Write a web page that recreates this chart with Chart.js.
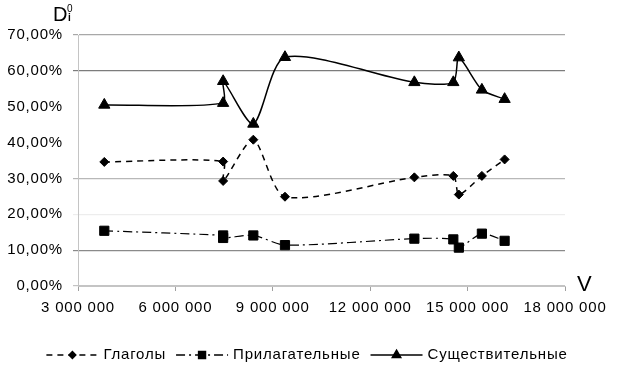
<!DOCTYPE html>
<html>
<head>
<meta charset="utf-8">
<script src="https://cdn.jsdelivr.net/npm/chart.js@4"></script>
<style>
  html, body { margin: 0; padding: 0; background: #fff; }
  #wrap { width: 624px; height: 369px; position: relative; }
</style>
</head>
<body>
<div id="wrap"><canvas id="chart"></canvas></div>
<script>
// ---- данные (V в единицах, D в %) ----
const verbsX = [3810000, 7470000, 7470000, 8400000, 9375000, 13360000, 14560000, 14730000, 15440000, 16140000];
const verbsY = [34.6, 34.7, 29.3, 40.8, 24.9, 30.3, 30.7, 25.5, 30.7, 35.3];

const adjX = [3810000, 7470000, 7470000, 8400000, 9375000, 13360000, 14560000, 14730000, 15440000, 16140000];
const adjY = [15.4, 14.1, 13.4, 14.1, 11.4, 13.2, 13.0, 10.7, 14.6, 12.6];

const nounX = [3810000, 7470000, 7470000, 8400000, 9375000, 13360000, 14560000, 14730000, 15440000, 16140000];
const nounY = [50.5, 51.0, 57.1, 45.2, 63.8, 56.8, 56.8, 63.7, 54.7, 52.1];

const seriesNames = ['Глаголы', 'Прилагательные', 'Существительные'];
const xTicks = [3000000, 6000000, 9000000, 12000000, 15000000, 18000000];
const yTicks = [0, 10, 20, 30, 40, 50, 60, 70];

const FONT = '"Liberation Sans", Arial, sans-serif';
const SPACING = '0.8px';

function pts(xs, ys) {
  return xs.map((x, i) => ({ x: x, y: ys[i] }));
}

// цвет сетки как на скане
function gridColor(v) {
  switch (v) {
    case 70: return '#a8a8a8';
    case 60: return '#7c7c7c';
    case 30: return '#b8b8b8';
    case 20: return '#ededed';
    case 10: return '#8a8a8a';
    case 0: return '#c4c4c4';
    default: return 'rgba(0,0,0,0)';
  }
}

/** немного разреженный шрифт, как в исходнике */
const letterSpacing = {
  id: 'letterSpacing',
  beforeLayout(chart) { chart.ctx.letterSpacing = SPACING; },
  beforeDraw(chart) { chart.ctx.letterSpacing = SPACING; }
};

/** подписи осей D и V */
const axisTitles = {
  id: 'axisTitles',
  afterDraw(chart) {
    const ctx = chart.ctx;
    ctx.save();
    ctx.letterSpacing = '0px';
    ctx.fillStyle = '#000';
    ctx.textBaseline = 'alphabetic';
    ctx.textAlign = 'left';
    ctx.font = '20px ' + FONT;
    ctx.fillText('D', 53, 21);
    ctx.font = '10px ' + FONT;
    ctx.fillText('0', 67, 12);
    ctx.font = 'bold 10px ' + FONT;
    ctx.fillText('i', 68, 21);
    ctx.font = '22px ' + FONT;
    ctx.fillText('V', 577, 291);
    ctx.restore();
  }
};

/** легенда снизу: образец линии с маркером + текст */
const bottomLegend = {
  id: 'bottomLegend',
  afterDraw(chart) {
    const ctx = chart.ctx;
    const sets = chart.data.datasets;
    const sampleW = 52, gap = 5, spacing = 10;
    const y = 355;
    ctx.save();
    ctx.letterSpacing = SPACING;
    ctx.font = '15px ' + FONT;
    let total = 0;
    sets.forEach((ds, i) => {
      total += sampleW + gap + ctx.measureText(ds.label).width;
      if (i < sets.length - 1) total += spacing;
    });
    let x = (chart.width - total) / 2 - 5;
    sets.forEach(ds => {
      ctx.strokeStyle = '#000';
      ctx.lineWidth = 1.5;
      ctx.setLineDash(ds.borderDash || []);
      ctx.beginPath();
      ctx.moveTo(x, y);
      ctx.lineTo(x + sampleW, y);
      ctx.stroke();
      ctx.setLineDash([]);
      Chart.helpers.drawPoint(ctx, {
        pointStyle: ds.pointStyle,
        radius: ds.pointRadius * 0.75,
        borderWidth: 1
      }, x + sampleW / 2, y);
      ctx.fillStyle = '#000';
      ctx.textBaseline = 'middle';
      ctx.fillText(ds.label, x + sampleW + gap, y);
      x += sampleW + gap + ctx.measureText(ds.label).width + spacing;
    });
    ctx.restore();
  }
};

const common = {
  showLine: true,
  tension: 0.25,
  borderColor: '#000',
  backgroundColor: '#000',
  pointBackgroundColor: '#000',
  pointBorderColor: '#000',
  borderWidth: 1.5,
  pointBorderWidth: 1
};

new Chart(document.getElementById('chart'), {
  type: 'scatter',
  data: {
    datasets: [
      Object.assign({}, common, {
        label: seriesNames[0],
        data: pts(verbsX, verbsY),
        borderDash: [6, 5],
        pointStyle: 'rectRot',
        pointRadius: 4.5
      }),
      Object.assign({}, common, {
        label: seriesNames[1],
        data: pts(adjX, adjY),
        borderDash: [9, 4, 2, 4],
        borderWidth: 1.2,
        pointStyle: 'rect',
        pointRadius: 6.5
      }),
      Object.assign({}, common, {
        label: seriesNames[2],
        data: pts(nounX, nounY),
        pointStyle: 'triangle',
        pointRadius: 6.5
      })
    ]
  },
  options: {
    responsive: true,
    maintainAspectRatio: false,
    animation: false,
    layout: { padding: { top: 35, right: 59, left: 0, bottom: 0 } },
    plugins: {
      legend: { display: false },
      tooltip: { enabled: false }
    },
    scales: {
      x: {
        type: 'linear',
        min: 3000000,
        max: 18000000,
        afterBuildTicks: s => { s.ticks = xTicks.map(v => ({ value: v })); },
        afterFit: s => { s.height = 83; },
        grid: { drawOnChartArea: false, drawTicks: true, tickLength: 5, color: '#a0a0a0' },
        border: { color: '#c4c4c4' },
        ticks: {
          color: '#000',
          font: { family: FONT, size: 15 },
          padding: 8,
          maxRotation: 0,
          autoSkip: false,
          callback: v => String(v).replace(/\B(?=(\d{3})+(?!\d))/g, ' ')
        }
      },
      y: {
        min: 0,
        max: 70,
        afterBuildTicks: s => { s.ticks = yTicks.map(v => ({ value: v })); },
        afterFit: s => { s.width = 78; },
        grid: {
          color: c => gridColor(c.tick ? c.tick.value : -1),
          lineWidth: 1.2,
          drawTicks: true,
          tickLength: 5
        },
        border: { color: '#c4c4c4' },
        ticks: {
          color: '#000',
          font: { family: FONT, size: 15 },
          padding: 10,
          callback: v => v.toFixed(2).replace('.', ',') + '%'
        }
      }
    }
  },
  plugins: [letterSpacing, axisTitles, bottomLegend]
});
</script>
</body>
</html>
